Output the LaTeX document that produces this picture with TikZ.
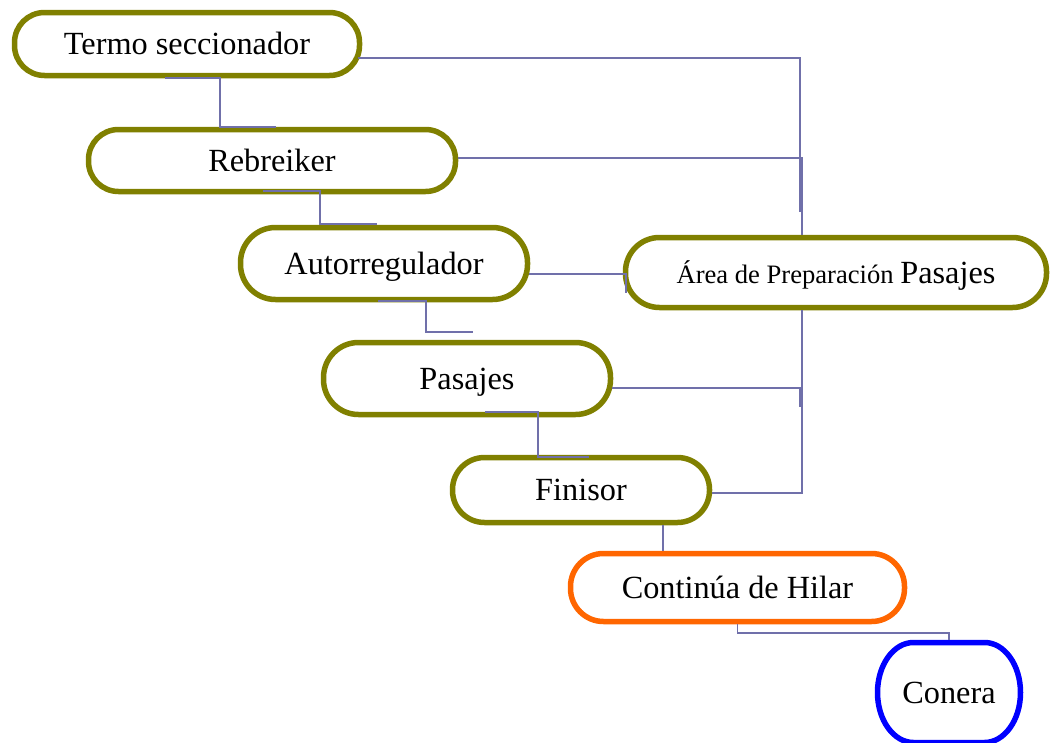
\documentclass[tikz,border=0pt]{standalone}
\usepackage{fontspec}
\setmainfont{Liberation Serif}
\definecolor{olivec}{HTML}{808000}
\definecolor{orangec}{HTML}{FF6600}
\definecolor{bluec}{HTML}{0000FF}
\definecolor{linkc}{HTML}{7070AA}
\tikzset{
  stage/.style={draw=olivec, fill=white, line width=5.5pt, rounded corners=30pt, inner sep=0pt,
    font=\fontsize{32.3}{37}\selectfont, text height=21.4pt, text depth=0pt},
  link/.style={draw=linkc, line width=1.7pt},
  blueline/.style={draw=bluec, line width=5.5pt},
}
\begin{document}
\begin{tikzpicture}[x=1pt,y=-1pt]
\useasboundingbox (0,0) rectangle (1050,742);
% nodes
\node[stage, minimum width=345pt, minimum height=63pt] (termo) at (187,44) {Termo seccionador};
\node[stage, minimum width=367pt, minimum height=62pt] (rebreiker) at (272,160.5) {Rebreiker};
\node[stage, rounded corners=35pt, minimum width=287pt, minimum height=72pt] (autoreg) at (384,263.5) {Autorregulador};
\node[stage, rounded corners=34pt, minimum width=421pt, minimum height=70pt] (area) at (836,272.5)
  {\fontsize{26.6}{30}\selectfont Área de Preparación {\fontsize{32.3}{37}\selectfont Pasajes}};
\node[stage, rounded corners=35pt, minimum width=287pt, minimum height=72pt] (pasajes) at (467,378.5) {Pasajes};
\node[stage, rounded corners=32pt, minimum width=257pt, minimum height=65pt] (finisor) at (581,490) {Finisor};
\node[stage, draw=orangec, rounded corners=33pt, minimum width=334pt, minimum height=68pt] (continua) at (737.5,587.5) {Continúa de Hilar};
\node[inner sep=0pt, outer sep=2.5pt, minimum width=143pt, minimum height=100pt] (conera) at (949,692.5) {};
\draw[blueline] (conera.center) ++(-35.5,-50) -- ++(71,0)
  arc[start angle=90, end angle=-90, x radius=36pt, y radius=50pt] -- ++(-71,0)
  arc[start angle=270, end angle=90, x radius=36pt, y radius=50pt] -- cycle;
\node[font=\fontsize{32.3}{37}\selectfont, text height=21.4pt, text depth=0pt, inner sep=0pt] at (conera.center) {Conera};
% connectors down the chain
\draw[link] ([xshift=-22pt]termo.south) -- ([xshift=33pt]termo.south) |- ([xshift=4pt]rebreiker.north);
\draw[link] ([xshift=-9pt,yshift=3pt]rebreiker.south) -- ([xshift=48pt,yshift=3pt]rebreiker.south) |- ([xshift=-7pt,yshift=1pt]autoreg.north);
\draw[link] ([xshift=-6pt,yshift=1pt]autoreg.south) -- ([xshift=42pt,yshift=1pt]autoreg.south) |- ([xshift=6pt,yshift=8pt]pasajes.north);
\draw[link] ([xshift=18pt,yshift=5pt]pasajes.south) -- ([xshift=71pt,yshift=5pt]pasajes.south) |- ([xshift=8pt,yshift=-2pt]finisor.north);
\draw[link] ([xshift=82pt]finisor.south) -- ([xshift=-74.5pt]continua.north);
\draw[link] (continua.south) -- ++(0,9) -| (conera.north);
% connectors to the preparation area
\draw[link] ([xshift=-4pt,yshift=-14pt]termo.east) -| ([xshift=-36pt,yshift=23pt]area.north);
\draw[link] ([yshift=2.5pt]rebreiker.east) -| ([xshift=-34pt]area.north);
\draw[link] ([xshift=-1pt,yshift=-10.5pt]autoreg.east) -| ([xshift=3pt,yshift=-20.5pt]area.west);
\draw[link] ([xshift=-1pt,yshift=-9.5pt]pasajes.east) -| ([xshift=-36pt,yshift=-97pt]area.south);
\draw[link] ([yshift=-3pt]finisor.east) -| ([xshift=-34pt]area.south);
\end{tikzpicture}
\end{document}
